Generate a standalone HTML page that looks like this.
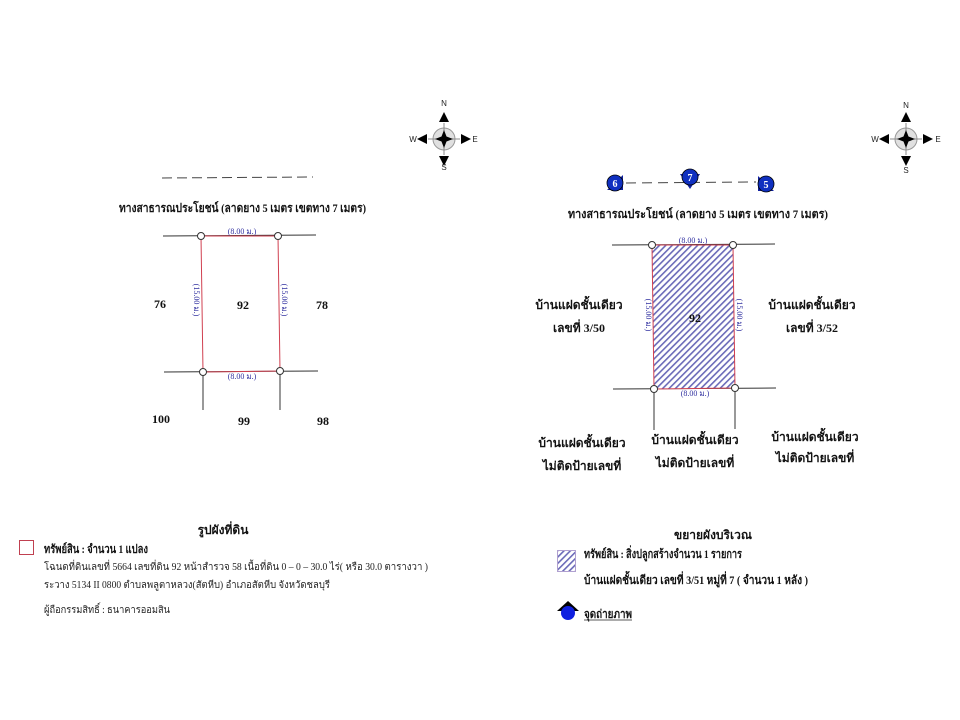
<!DOCTYPE html>
<html><head><meta charset="utf-8"><style>
html,body{margin:0;padding:0;background:#fff;}
svg{display:block;}
text{font-family:"Liberation Serif","DejaVu Sans","Noto Sans CJK SC",serif;}
.b{font-weight:bold;font-size:12px;fill:#111;}
.dim{font-size:8px;fill:#3030a0;}
.cmp{font-family:"Liberation Sans",sans-serif;font-size:8px;fill:#222;}
</style></head><body>
<svg width="960" height="720" viewBox="0 0 960 720" xmlns="http://www.w3.org/2000/svg">
<defs>
<pattern id="h" patternUnits="userSpaceOnUse" width="4.5" height="4.5" patternTransform="rotate(45)">
<rect width="4.5" height="4.5" fill="#fff"/><rect width="1.6" height="4.5" fill="#6a6ab8"/>
</pattern>
<g id="comp">
<circle r="11" fill="#e0e0e0" stroke="#999" stroke-width="1"/>
<line x1="-16" y1="0" x2="16" y2="0" stroke="#888"/><line x1="0" y1="-16" x2="0" y2="16" stroke="#888"/>
<polygon points="0,-9 2.5,-2.5 9,0 2.5,2.5 0,9 -2.5,2.5 -9,0 -2.5,-2.5" fill="#000"/>
<polygon points="0,-27 -5,-17 5,-17" fill="#000"/>
<polygon points="0,27 -5,17 5,17" fill="#000"/>
<polygon points="-27,0 -17,-5 -17,5" fill="#000"/>
<polygon points="27,0 17,-5 17,5" fill="#000"/>
</g>
</defs>

<!-- LEFT -->
<use href="#comp" x="444" y="139"/>
<text class="cmp" x="444" y="106" text-anchor="middle">N</text>
<text class="cmp" x="444" y="170" text-anchor="middle">S</text>
<text class="cmp" x="413" y="142" text-anchor="middle">W</text>
<text class="cmp" x="475" y="142" text-anchor="middle">E</text>
<line x1="162" y1="178" x2="313" y2="177" stroke="#444" stroke-dasharray="10,5"/>
<text class="b" x="119" y="212" textLength="247" lengthAdjust="spacingAndGlyphs">ทางสาธารณประโยชน์ (ลาดยาง 5 เมตร เขตทาง 7 เมตร)</text>

<g stroke="#333" stroke-width="1">
<line x1="163" y1="236" x2="316" y2="235"/>
<line x1="164" y1="372" x2="318" y2="371"/>
<line x1="203" y1="372" x2="203" y2="410"/>
<line x1="280" y1="372" x2="280" y2="410"/>
</g>
<polygon points="201,236 278,236 280,371 203,372" fill="none" stroke="#d04050" stroke-width="1"/>
<g fill="#fff" stroke="#333"><circle cx="201" cy="236" r="3.5"/><circle cx="278" cy="236" r="3.5"/><circle cx="203" cy="372" r="3.5"/><circle cx="280" cy="371" r="3.5"/></g>
<text class="dim" x="242" y="234" text-anchor="middle">(8.00 ม.)</text>
<text class="dim" x="242" y="379" text-anchor="middle">(8.00 ม.)</text>
<text class="dim" transform="translate(194,300) rotate(90)" text-anchor="middle">(15.00 ม.)</text>
<text class="dim" transform="translate(282,300) rotate(90)" text-anchor="middle">(15.00 ม.)</text>
<text class="b" x="160" y="308" text-anchor="middle">76</text>
<text class="b" x="243" y="309" text-anchor="middle">92</text>
<text class="b" x="322" y="309" text-anchor="middle">78</text>
<text class="b" x="161" y="423" text-anchor="middle">100</text>
<text class="b" x="244" y="425" text-anchor="middle">99</text>
<text class="b" x="323" y="425" text-anchor="middle">98</text>

<!-- RIGHT -->
<use href="#comp" x="906" y="139"/>
<text class="cmp" x="906" y="108" text-anchor="middle">N</text>
<text class="cmp" x="906" y="173" text-anchor="middle">S</text>
<text class="cmp" x="875" y="142" text-anchor="middle">W</text>
<text class="cmp" x="938" y="142" text-anchor="middle">E</text>
<line x1="626" y1="183" x2="756" y2="182" stroke="#444" stroke-dasharray="10,6"/>
<g>
<polygon points="607,190 623,190 623,175" fill="#1020a0"/><circle cx="615" cy="183" r="8" fill="#1030c0" stroke="#000" stroke-width="0.8"/>
<text x="615" y="187" font-size="10" font-weight="bold" fill="#fff" text-anchor="middle">6</text>
<polygon points="680,174 700,174 690,189" fill="#1020a0"/><circle cx="690" cy="177" r="8" fill="#1030c0" stroke="#000" stroke-width="0.8"/>
<text x="690" y="181" font-size="10" font-weight="bold" fill="#fff" text-anchor="middle">7</text>
<polygon points="758,176 758,191 774,191" fill="#1020a0"/><circle cx="766" cy="184" r="8" fill="#1030c0" stroke="#000" stroke-width="0.8"/>
<text x="766" y="188" font-size="10" font-weight="bold" fill="#fff" text-anchor="middle">5</text>
</g>
<text class="b" x="568" y="218" textLength="260" lengthAdjust="spacingAndGlyphs">ทางสาธารณประโยชน์ (ลาดยาง 5 เมตร เขตทาง 7 เมตร)</text>
<g stroke="#333" stroke-width="1">
<line x1="612" y1="245" x2="775" y2="244"/>
<line x1="613" y1="389" x2="776" y2="388"/>
<line x1="654" y1="389" x2="654" y2="430"/>
<line x1="735" y1="388" x2="735" y2="429"/>
</g>
<polygon points="652,245 733,245 735,388 654,389" fill="url(#h)" stroke="#d04050" stroke-width="1"/>
<g fill="#fff" stroke="#333"><circle cx="652" cy="245" r="3.5"/><circle cx="733" cy="245" r="3.5"/><circle cx="654" cy="389" r="3.5"/><circle cx="735" cy="388" r="3.5"/></g>
<text class="dim" x="693" y="243" text-anchor="middle">(8.00 ม.)</text>
<text class="dim" x="695" y="396" text-anchor="middle">(8.00 ม.)</text>
<text class="dim" transform="translate(646,315) rotate(90)" text-anchor="middle">(15.00 ม.)</text>
<text class="dim" transform="translate(737,315) rotate(90)" text-anchor="middle">(15.00 ม.)</text>
<text class="b" x="695" y="322" text-anchor="middle">92</text>
<g class="b" text-anchor="middle">
<text class="b" x="579" y="309">บ้านแฝดชั้นเดียว</text>
<text class="b" x="579" y="332">เลขที่ 3/50</text>
<text class="b" x="812" y="309">บ้านแฝดชั้นเดียว</text>
<text class="b" x="812" y="332">เลขที่ 3/52</text>
<text class="b" x="582" y="447">บ้านแฝดชั้นเดียว</text>
<text class="b" x="582" y="470">ไม่ติดป้ายเลขที่</text>
<text class="b" x="695" y="444">บ้านแฝดชั้นเดียว</text>
<text class="b" x="695" y="467">ไม่ติดป้ายเลขที่</text>
<text class="b" x="815" y="441">บ้านแฝดชั้นเดียว</text>
<text class="b" x="815" y="462">ไม่ติดป้ายเลขที่</text>
</g>

<!-- LEGEND LEFT -->
<text class="b" x="223" y="534" text-anchor="middle" font-size="13">รูปผังที่ดิน</text>
<rect x="19.5" y="540.5" width="14" height="14" fill="none" stroke="#c04050"/>
<text class="b" x="44" y="553" font-size="10" textLength="104" lengthAdjust="spacingAndGlyphs">ทรัพย์สิน : จำนวน 1 แปลง</text>
<text x="44" y="570" font-size="10" fill="#222" textLength="384" lengthAdjust="spacingAndGlyphs">โฉนดที่ดินเลขที่ 5664 เลขที่ดิน 92 หน้าสำรวจ 58 เนื้อที่ดิน 0 – 0 – 30.0 ไร่( หรือ 30.0 ตารางวา )</text>
<text x="44" y="588" font-size="10" fill="#222" textLength="286" lengthAdjust="spacingAndGlyphs">ระวาง 5134 II 0800 ตำบลพลูตาหลวง(สัตหีบ) อำเภอสัตหีบ จังหวัดชลบุรี</text>
<text x="44" y="613" font-size="10" fill="#222" textLength="126" lengthAdjust="spacingAndGlyphs">ผู้ถือกรรมสิทธิ์ : ธนาคารออมสิน</text>

<!-- LEGEND RIGHT -->
<text class="b" x="713" y="539" text-anchor="middle" font-size="12">ขยายผังบริเวณ</text>
<rect x="557.5" y="550.5" width="18" height="21" fill="url(#h)" stroke="#b0a0d0"/>
<text class="b" x="584" y="558" font-size="10" textLength="158" lengthAdjust="spacingAndGlyphs">ทรัพย์สิน : สิ่งปลูกสร้างจำนวน 1 รายการ</text>
<text class="b" x="584" y="584" font-size="10" textLength="224" lengthAdjust="spacingAndGlyphs">บ้านแฝดชั้นเดียว เลขที่ 3/51 หมู่ที่ 7 ( จำนวน 1 หลัง )</text>
<polygon points="568,601 557,611 579,611" fill="#000"/>
<circle cx="568" cy="613" r="7" fill="#1020e0"/>
<text class="b" x="584" y="618" font-size="10" textLength="48" lengthAdjust="spacingAndGlyphs">จุดถ่ายภาพ</text>
<line x1="584" y1="620" x2="632" y2="620" stroke="#222" stroke-width="0.8"/>
</svg>
</body></html>
